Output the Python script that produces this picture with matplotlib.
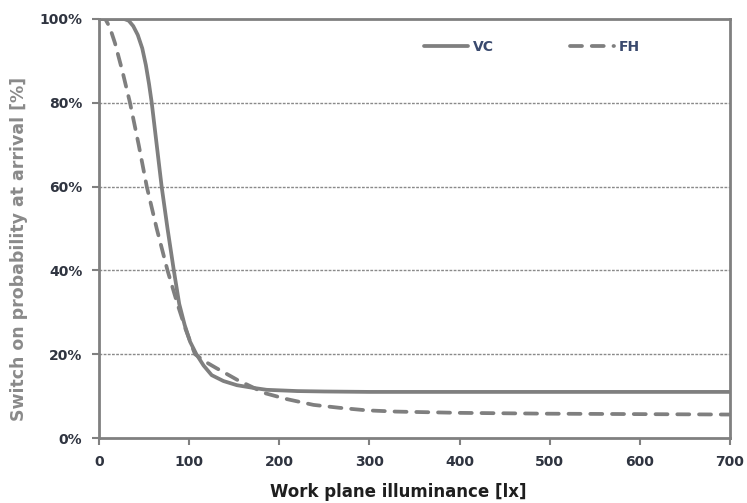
import matplotlib
matplotlib.use("Agg")
import matplotlib.pyplot as plt
from matplotlib.ticker import FuncFormatter

plt.rcParams['font.family'] = ['DejaVu Sans']

# Data
vc_x = [0, 28, 33, 38, 43, 48, 52, 55.5, 58.5, 64, 69.5, 76, 83, 89, 95, 101, 108, 116, 125, 138, 153, 170, 186, 220, 250, 300, 400, 500, 600, 700]
vc_y = [100, 100, 99.6, 98.3, 96.2, 93, 89, 84.5, 80, 70, 60, 50, 40, 32, 27, 23, 20, 17.3, 15, 13.6, 12.6, 12.0, 11.5, 11.2, 11.1, 11.0, 11.0, 11.0, 11.0, 11.0]

fh_x = [0, 7, 12, 17.8, 26, 34.4, 44, 53, 64, 76, 87, 96, 106.5, 118, 130, 154, 184, 208, 238, 267, 297, 330, 400, 500, 600, 700]
fh_y = [100, 100, 98, 94.2, 87.5, 80, 70, 60, 50, 40, 32, 26, 20, 18.2, 16.7, 13.8, 10.7, 9.3, 7.9, 7.2, 6.6, 6.3, 6.0, 5.8, 5.7, 5.6]

series_labels = ["VC", "FH"]
x_ticks = [0, 100, 200, 300, 400, 500, 600, 700]
y_ticks = [0, 20, 40, 60, 80, 100]

line_color = "#7f7f7f"
text_color = "#2f3440"

fig = plt.figure(figsize=(7.47, 5.03), dpi=100)
ax = fig.add_axes([99/747, 1-438/503, (730-99)/747, (438-19)/503])

ax.plot(vc_x, vc_y, color=line_color, lw=2.7, solid_capstyle='round', solid_joinstyle='round', label=series_labels[0])
ax.plot(fh_x, fh_y, color=line_color, lw=2.7, dashes=(3.2, 2.6), dash_capstyle='round', label=series_labels[1])

ax.set_xlim(0, 700)
ax.set_ylim(0, 100)
ax.set_xticks(x_ticks)
ax.set_yticks(y_ticks)
ax.yaxis.set_major_formatter(FuncFormatter(lambda v, p: f"{int(v)}%"))

for y in y_ticks[1:-1]:
    ax.axhline(y, color="#8a8a8a", lw=1.0, ls=(0, (2, 1)), zorder=0)

for s in ax.spines.values():
    s.set_color("#808080")
    s.set_linewidth(2.0)

ax.tick_params(axis='both', direction='out', length=5, width=1.5, color="#808080",
               labelsize=10, labelcolor=text_color, pad=7)
for lab in ax.get_xticklabels() + ax.get_yticklabels():
    lab.set_fontweight('bold')

ax.set_xlabel("Work plane illuminance [lx]", fontsize=12, fontweight='bold', color="#1e1e1e")
ax.xaxis.set_label_coords(0.475, -0.108)
ax.set_ylabel("Switch on probability at arrival [%]", fontsize=12.5, fontweight='bold', color="#8a8a8a")
ax.yaxis.set_label_coords(-0.112, 0.451)

leg = ax.legend(loc='center left', bbox_to_anchor=(0.515, 0.933), ncol=2, frameon=False,
                borderaxespad=0, borderpad=0,
                handlelength=3.2, columnspacing=5.5, handletextpad=0.3,
                prop={'weight': 'bold', 'size': 10})
for t in leg.get_texts():
    t.set_color("#3a4a6e")

fig.savefig("out.png", dpi=100, facecolor="white")
